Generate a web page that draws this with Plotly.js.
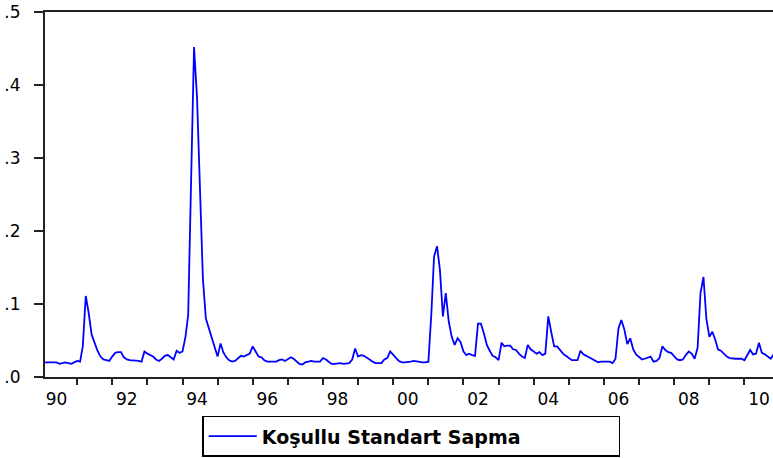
<!DOCTYPE html>
<html>
<head>
<meta charset="utf-8">
<script src="https://cdn.plot.ly/plotly-3.0.1.min.js"></script>
<style>html,body{margin:0;padding:0;background:#fff;}#chart{width:773px;height:458px;}</style>
</head>
<body>
<div id="chart"></div>
<script>
// Monthly series, first value = 1990-02
const startYear = 1990, startMonth = 2;
const seriesName = 'Koşullu Standart Sapma';
const v1990 = [0.020,0.020,0.019,0.019,0.020,0.018,0.019,0.020,0.019,0.018,0.020];
const v1991 = [0.022,0.021,0.042,0.111,0.088,0.058,0.046,0.036,0.028,0.024,0.023,0.022];
const v1992 = [0.028,0.033,0.034,0.034,0.027,0.024,0.023,0.023,0.023,0.022,0.021,0.035];
const v1993 = [0.032,0.030,0.028,0.024,0.022,0.025,0.029,0.030,0.027,0.024,0.036,0.033];
const v1994 = [0.035,0.055,0.085,0.265,0.452,0.383,0.245,0.135,0.080,0.066,0.053,0.041];
const v1995 = [0.028,0.046,0.034,0.027,0.023,0.021,0.022,0.026,0.029,0.028,0.030,0.032];
const v1996 = [0.042,0.035,0.028,0.027,0.023,0.021,0.021,0.020,0.021,0.023,0.024,0.022];
const v1997 = [0.024,0.027,0.025,0.021,0.018,0.017,0.020,0.021,0.022,0.021,0.021,0.021];
const v1998 = [0.026,0.024,0.021,0.018,0.018,0.019,0.019,0.018,0.019,0.019,0.024,0.039];
const v1999 = [0.028,0.030,0.029,0.027,0.024,0.021,0.019,0.019,0.019,0.024,0.026,0.035];
const v2000 = [0.030,0.026,0.022,0.020,0.020,0.020,0.021,0.022,0.021,0.021,0.020,0.020];
const v2001 = [0.021,0.087,0.165,0.179,0.147,0.083,0.115,0.076,0.055,0.044,0.053,0.048];
const v2002 = [0.035,0.030,0.032,0.030,0.029,0.073,0.073,0.060,0.044,0.036,0.029,0.027];
const v2003 = [0.023,0.047,0.042,0.043,0.043,0.038,0.037,0.032,0.028,0.026,0.044,0.038];
const v2004 = [0.035,0.032,0.034,0.030,0.032,0.083,0.062,0.042,0.042,0.037,0.032,0.029];
const v2005 = [0.026,0.023,0.023,0.023,0.036,0.031,0.029,0.027,0.024,0.022,0.020,0.021];
const v2006 = [0.021,0.021,0.021,0.019,0.025,0.067,0.078,0.065,0.045,0.053,0.038,0.031];
const v2007 = [0.027,0.024,0.025,0.027,0.028,0.021,0.022,0.026,0.042,0.037,0.034,0.033];
const v2008 = [0.029,0.024,0.023,0.024,0.030,0.035,0.032,0.025,0.040,0.115,0.137,0.080];
const v2009 = [0.055,0.062,0.052,0.038,0.036,0.032,0.028,0.026,0.025,0.025,0.025,0.025];
const v2010 = [0.023,0.030,0.037,0.031,0.032,0.047,0.033,0.031,0.028,0.025,0.031];

const yTickVals = [0, 0.1, 0.2, 0.3, 0.4, 0.5];
const yTickText = ['.0', '.1', '.2', '.3', '.4', '.5'];
const xLabelYears = [1990, 1992, 1994, 1996, 1998, 2000, 2002, 2004, 2006, 2008, 2010];
const xLabelText = ['90', '92', '94', '96', '98', '00', '02', '04', '06', '08', '10'];
const xTickYears = [1991,1992,1993,1994,1995,1996,1997,1998,1999,2000,2001,2002,2003,2004,2005,2006,2007,2008,2009,2010];

const values = [].concat(v1990,v1991,v1992,v1993,v1994,v1995,v1996,v1997,v1998,v1999,
  v2000,v2001,v2002,v2003,v2004,v2005,v2006,v2007,v2008,v2009,v2010);
const dates = values.map((_, i) => {
  const m0 = (startMonth - 1) + i;
  const y = startYear + Math.floor(m0 / 12);
  const m = (m0 % 12) + 1;
  return y + '-' + String(m).padStart(2, '0') + '-01';
});

const trace = {
  x: dates, y: values, type: 'scatter', mode: 'lines', name: seriesName,
  line: {color: '#0000ff', width: 1.8}, showlegend: true
};

const layout = {
  width: 773, height: 458,
  margin: {l: 45, r: 0, t: 12, b: 81},
  paper_bgcolor: '#ffffff', plot_bgcolor: '#ffffff',
  font: {family: 'DejaVu Sans, sans-serif', color: '#000'},
  xaxis: {
    type: 'date',
    range: ['1990-02-01', '2010-10-25'],
    showgrid: false, zeroline: false,
    showline: true, linecolor: '#222', linewidth: 2, mirror: true,
    tickmode: 'array',
    tickvals: xLabelYears.map(y => y + '-06-01'),
    ticktext: xLabelText,
    ticks: 'outside', ticklen: 6, tickcolor: 'rgba(0,0,0,0)',
    tickfont: {family: 'DejaVu Sans, sans-serif', size: 17, color: '#000'},
    minor: {
      tickmode: 'array',
      tickvals: xTickYears.map(y => y + '-01-01'),
      ticks: 'outside', ticklen: 6, tickwidth: 2, tickcolor: '#222', showgrid: false
    }
  },
  yaxis: {
    range: [0, 0.5],
    showgrid: false, zeroline: false,
    showline: true, linecolor: '#222', linewidth: 2,
    tickmode: 'array', tickvals: yTickVals, ticktext: yTickText,
    ticks: 'outside', ticklen: 9, tickwidth: 2, tickcolor: '#222',
    ticklabelstandoff: 10,
    tickfont: {family: 'DejaVu Sans, sans-serif', size: 17, color: '#000'}
  },
  showlegend: true,
  legend: {
    orientation: 'h', xref: 'paper', x: 0.216, xanchor: 'left',
    yref: 'container', y: 0.092, yanchor: 'top',
    bordercolor: '#000', borderwidth: 1.5, bgcolor: '#fff',
    itemwidth: 48, entrywidth: 352, entrywidthmode: 'pixels',
    font: {family: 'DejaVu Sans, sans-serif', size: 19, color: '#000', weight: 'bold'}
  }
};

Plotly.newPlot('chart', [trace], layout, {displayModeBar: false, staticPlot: true});
</script>
</body>
</html>
